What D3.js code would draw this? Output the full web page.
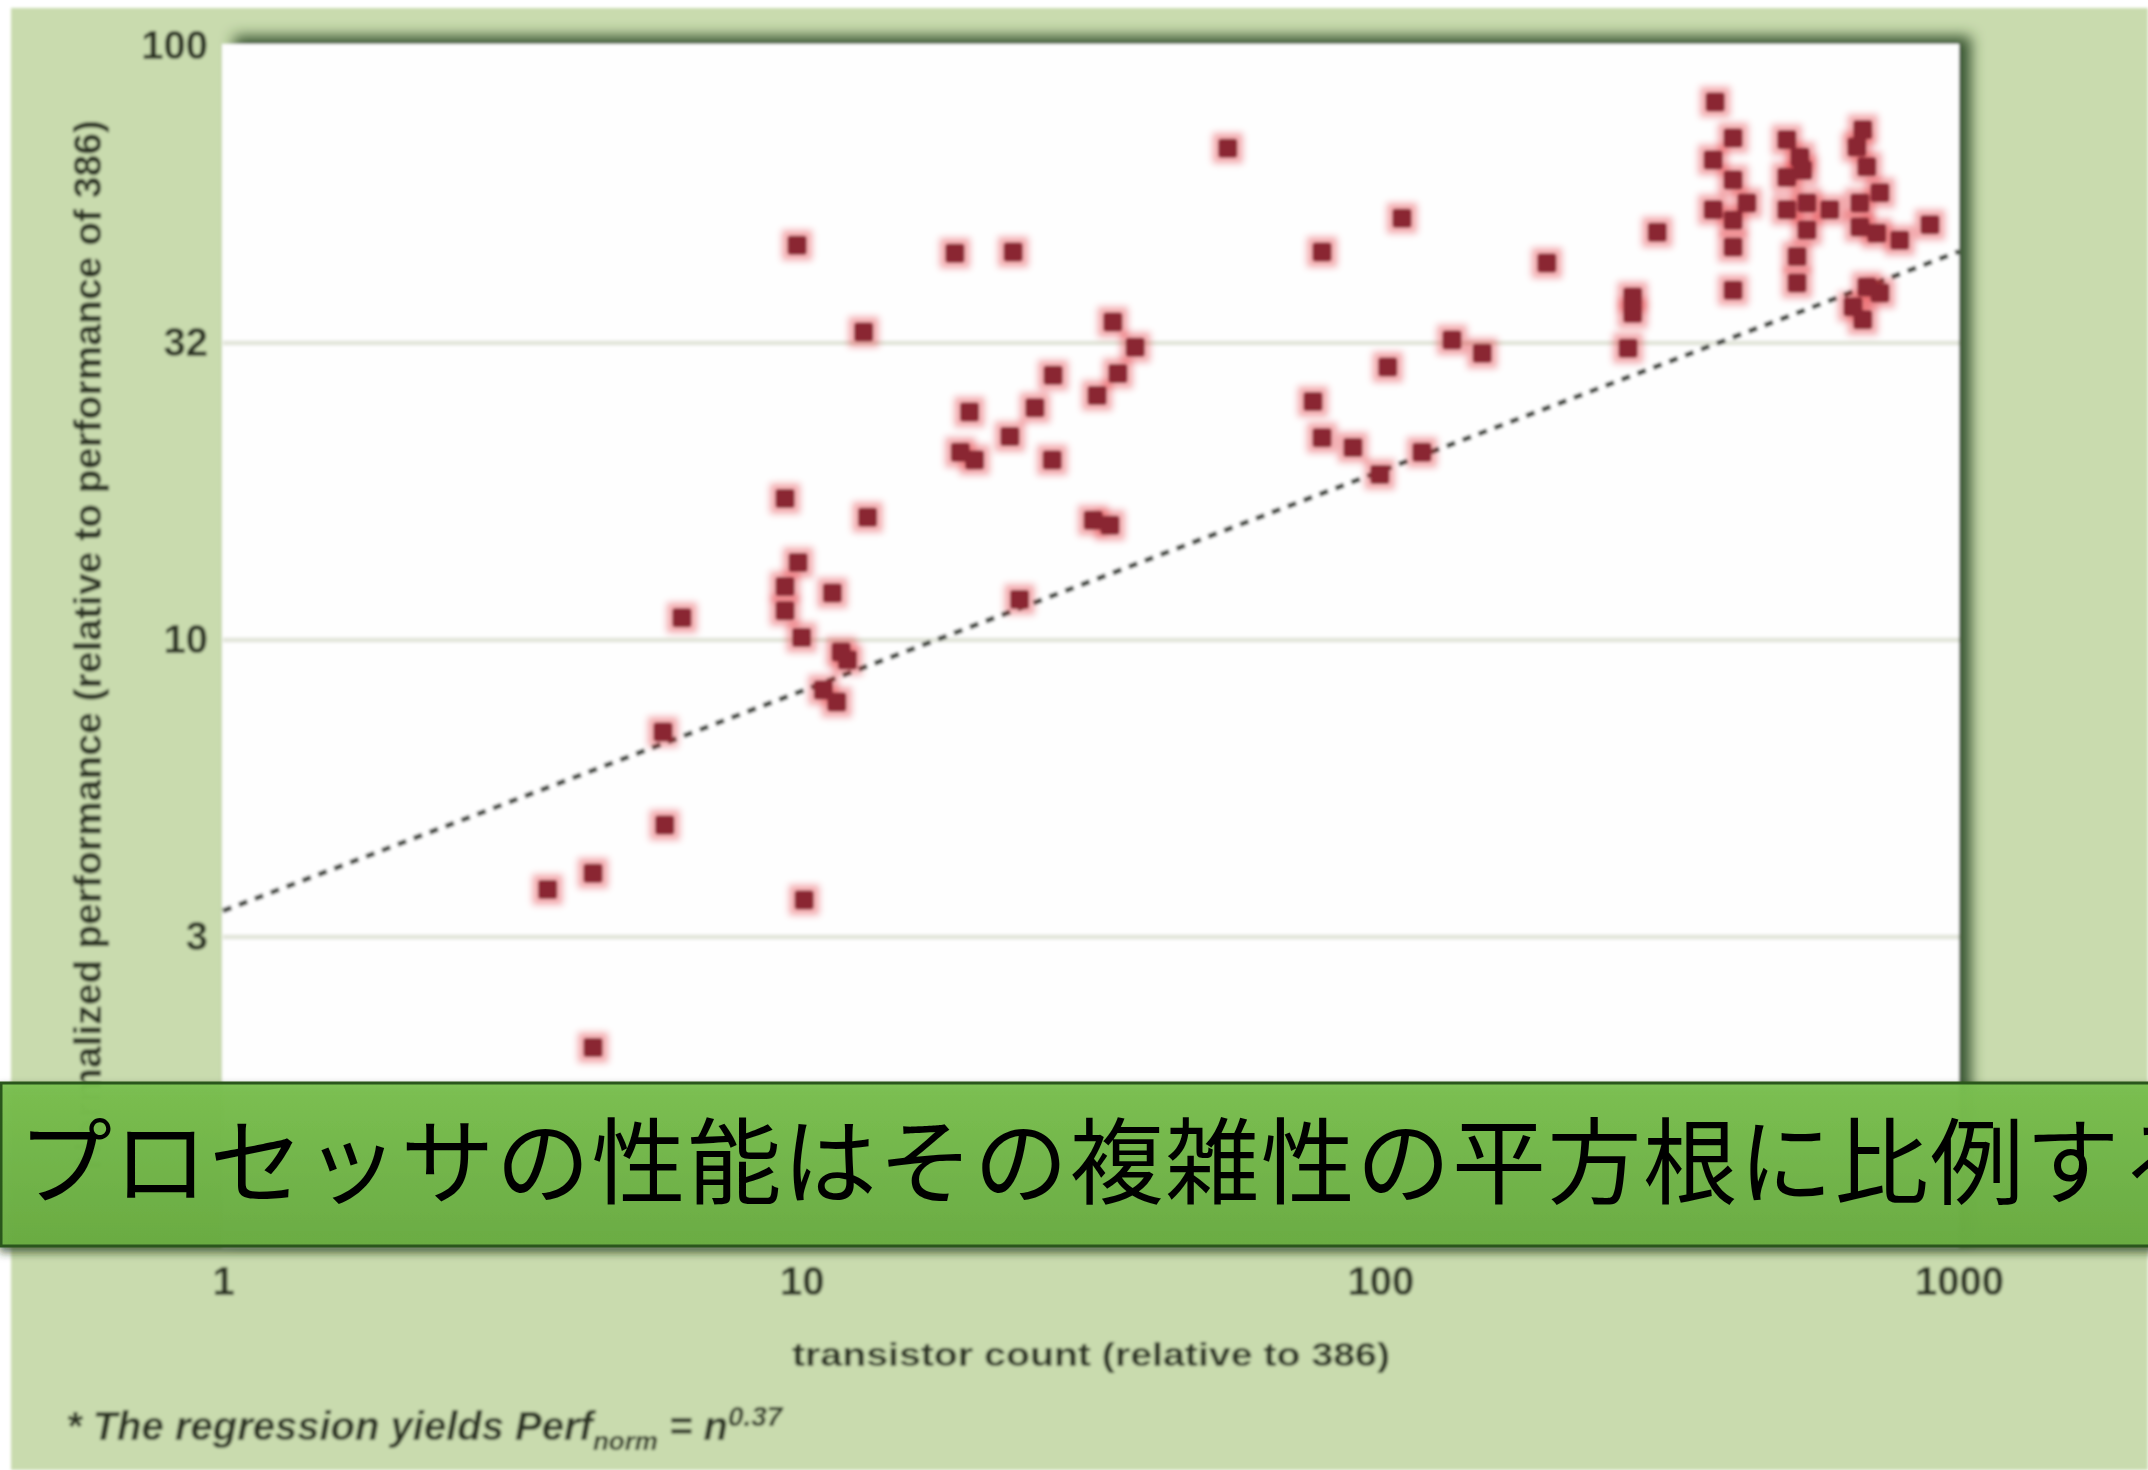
<!DOCTYPE html>
<html>
<head>
<meta charset="utf-8">
<script src="https://cdn.jsdelivr.net/npm/d3@7"></script>
<style>
  html, body { margin: 0; padding: 0; background: #ffffff; }
  svg { display: block; }
</style>
</head>
<body>
<svg id="chart" width="2148" height="1470"></svg>
<script>
// Transistor count of each processor, relative to the 386
const transistorCount = [
  3.64, 4.36, 4.36, 5.76, 5.80, 6.21, 9.36, 9.86, 9.36, 9.36, 11.3, 10.0, 11.7, 12.0, 10.9, 11.5, 10.1,
  9.82, 12.8, 13.0, 18.4, 23.2, 19.5, 18.8, 19.9, 22.9, 25.3, 27.1, 27.2, 23.8, 31.9, 34.1, 32.4, 34.5, 35.2, 37.7,
  54.5, 76.5, 79.3, 79.3, 89.7, 99.8, 103, 109, 118, 133, 150, 194, 268, 273, 273, 301,
  379, 407, 376, 407, 376, 430, 407, 407, 407,
  504, 531, 504, 537, 504, 546, 598, 546, 525, 525,
  682, 666, 693, 730, 674, 674, 721, 790, 891, 693, 656, 682, 730
];
// Normalized performance, relative to the 386
const performance = [
  3.80, 4.05, 2.06, 7.0, 4.88, 10.9, 17.3, 13.5, 12.3, 11.2, 12.0, 10.1, 9.55, 9.25, 8.24, 7.86, 3.65,
  46.2, 33.0, 16.1, 44.8, 45.0, 24.2, 20.7, 20.1, 22.0, 24.6, 20.1, 27.9, 11.7, 15.9, 15.6, 25.8, 34.3, 28.1, 31.1,
  67.3, 25.2, 45.0, 21.9, 21.1, 19.0, 28.8, 51.3, 20.7, 32.0, 30.4, 43.1, 31.0, 37.8, 35.5, 48.6,
  80.5, 70.0, 64.3, 59.5, 53.0, 54.4, 50.9, 45.9, 38.8,
  69.5, 65.0, 60.1, 61.8, 53.0, 54.4, 53.0, 49.0, 44.2, 39.9,
  72.3, 67.6, 62.6, 56.6, 54.4, 49.6, 48.4, 47.1, 50.0, 39.3, 36.4, 34.6, 38.4
];

// Axis ticks (half-decade steps on the performance axis)
const xTickValues = [1, 10, 100, 1000];
const xTickLabels = ["1", "10", "100", "1000"];
const yTickValues = [3.1623, 10, 31.623, 100];
const yTickLabels = ["3", "10", "32", "100"];
const gridValues = [1, 3.1623, 10, 31.623];

// Power-law fit: perf = coef * n ^ exponent
const regressionCoef = 3.5;
const regressionExp = 0.37;
const regressionRange = [1, 1000];

const xTitle = "transistor count (relative to 386)";
const yTitle = "Normalized performance (relative to performance of 386)";
const footnoteText = "* The regression yields ";
const bannerText = "プロセッサの性能はその複雑性の平方根に比例する";

const W = 2148, H = 1470;
const svg = d3.select("#chart");
const defs = svg.append("defs");

// soft focus for the chart body
defs.append("filter").attr("id", "soft")
  .attr("x", "-5%").attr("y", "-5%").attr("width", "110%").attr("height", "110%")
  .append("feGaussianBlur").attr("stdDeviation", 1.4);

defs.append("filter").attr("id", "haloBlur")
  .attr("x", "-50%").attr("y", "-50%").attr("width", "200%").attr("height", "200%")
  .append("feGaussianBlur").attr("stdDeviation", 3);

const plotShadow = defs.append("filter").attr("id", "plotShadow")
  .attr("x", "-10%").attr("y", "-10%").attr("width", "120%").attr("height", "120%");
plotShadow.append("feDropShadow")
  .attr("dx", 12).attr("dy", -8).attr("stdDeviation", 7)
  .attr("flood-color", "#2c4623").attr("flood-opacity", 0.9);

const bannerShadow = defs.append("filter").attr("id", "bannerShadow")
  .attr("x", "-5%").attr("y", "-30%").attr("width", "110%").attr("height", "160%");
bannerShadow.append("feDropShadow")
  .attr("dx", 0).attr("dy", 5).attr("stdDeviation", 4)
  .attr("flood-color", "#1f3317").attr("flood-opacity", 0.7);

const bannerGrad = defs.append("linearGradient").attr("id", "bannerFill")
  .attr("x1", 0).attr("y1", 0).attr("x2", 0).attr("y2", 1);
bannerGrad.append("stop").attr("offset", "0%").attr("stop-color", "#7bc150");
bannerGrad.append("stop").attr("offset", "100%").attr("stop-color", "#6aad42");

// Scales
const plotLeft = 223, plotRight = 1959, plotTop = 46, plotBottom = 1234;
const x = d3.scaleLog().domain([1, 1000]).range([plotLeft, plotRight]);
const y = d3.scaleLog().domain([1, 100]).range([plotBottom, plotTop]);

// Page background
svg.append("rect").attr("width", W).attr("height", H).attr("fill", "#ffffff");
const body = svg.append("g").attr("filter", "url(#soft)");
body.append("rect").attr("x", 11).attr("y", 8).attr("width", W - 11).attr("height", H - 8)
  .attr("fill", "#c9dbae");

// Plot panel
body.append("rect")
  .attr("x", plotLeft - 1).attr("y", plotTop - 2)
  .attr("width", plotRight - plotLeft + 1).attr("height", plotBottom - plotTop + 16)
  .attr("fill", "#fefefe")
  .attr("filter", "url(#plotShadow)");

// Horizontal gridlines
body.append("g").selectAll("line")
  .data(gridValues)
  .join("line")
  .attr("x1", plotLeft).attr("x2", plotRight)
  .attr("y1", d => y(d)).attr("y2", d => y(d))
  .attr("stroke", "#e3e6db").attr("stroke-width", 5);

// Regression line
const fit = regressionRange.map(n => [n, regressionCoef * Math.pow(n, regressionExp)]);
body.append("path")
  .attr("d", d3.line().x(d => x(d[0])).y(d => y(d[1]))(fit))
  .attr("fill", "none")
  .attr("stroke", "#3d423b")
  .attr("stroke-width", 5)
  .attr("stroke-dasharray", "9,8");

// Processors
const pts = transistorCount.map((n, i) => ({ n, p: performance[i] }));
body.append("g").attr("filter", "url(#haloBlur)").selectAll("rect")
  .data(pts).join("rect")
  .attr("x", d => x(d.n) - 15).attr("y", d => y(d.p) - 15)
  .attr("width", 30).attr("height", 30)
  .attr("fill", "#e0222e").attr("fill-opacity", 0.4);
body.append("g").selectAll("rect")
  .data(pts).join("rect")
  .attr("x", d => x(d.n) - 9.5).attr("y", d => y(d.p) - 9.5)
  .attr("width", 19).attr("height", 19).attr("rx", 3)
  .attr("fill", "#8a2533");

// Axes
const textColor = "#2a3322";
const yAxis = d3.axisLeft(y)
  .tickValues(yTickValues)
  .tickFormat((d, i) => yTickLabels[i])
  .tickSize(0).tickPadding(14);
const yg = body.append("g").attr("transform", `translate(${plotLeft - 1},0)`).call(yAxis);
yg.select(".domain").remove();
yg.selectAll("text")
  .attr("font-family", "'Liberation Sans', Arial, sans-serif")
  .attr("font-size", 40).attr("font-weight", "bold")
  .attr("fill", textColor);

const xAxis = d3.axisBottom(x)
  .tickValues(xTickValues)
  .tickFormat((d, i) => xTickLabels[i])
  .tickSize(0).tickPadding(33);
const xg = body.append("g").attr("transform", `translate(0,${plotBottom})`).call(xAxis);
xg.select(".domain").remove();
xg.selectAll("text")
  .attr("font-family", "'Liberation Sans', Arial, sans-serif")
  .attr("font-size", 40).attr("font-weight", "bold")
  .attr("fill", textColor);

// Axis titles
body.append("text")
  .attr("transform", "translate(101,645) rotate(-90)")
  .attr("text-anchor", "middle")
  .attr("font-family", "'Liberation Sans', Arial, sans-serif")
  .attr("font-size", 38).attr("font-weight", "bold")
  .attr("fill", textColor)
  .attr("textLength", 1050).attr("lengthAdjust", "spacingAndGlyphs")
  .text(yTitle);

body.append("text")
  .attr("x", 1091).attr("y", 1366)
  .attr("text-anchor", "middle")
  .attr("font-family", "'Liberation Sans', Arial, sans-serif")
  .attr("font-size", 33).attr("font-weight", "bold")
  .attr("fill", textColor)
  .attr("textLength", 598).attr("lengthAdjust", "spacingAndGlyphs")
  .text(xTitle);

// Footnote with the fitted power law
const foot = body.append("text")
  .attr("x", 66).attr("y", 1440)
  .attr("font-family", "'Liberation Sans', Arial, sans-serif")
  .attr("font-size", 40).attr("font-style", "italic").attr("font-weight", "bold")
  .attr("fill", textColor);
foot.append("tspan").text(footnoteText + "Perf");
foot.append("tspan").attr("font-size", 26).attr("dy", 10).text("norm");
foot.append("tspan").attr("dy", -10).text(" = n");
foot.append("tspan").attr("font-size", 28).attr("dy", -14).text(regressionExp.toFixed(2));

// Caption banner
const banner = svg.append("g");
banner.append("rect")
  .attr("x", 1).attr("y", 1083).attr("width", W + 20).attr("height", 163)
  .attr("fill", "url(#bannerFill)")
  .attr("fill-opacity", 0.95)
  .attr("stroke", "#2b561c").attr("stroke-width", 3)
  .attr("filter", "url(#bannerShadow)");
banner.append("text")
  .attr("x", 18).attr("y", 1197)
  .attr("font-family", "'Noto Sans CJK JP', sans-serif")
  .attr("font-size", 94).attr("font-weight", 400)
  .attr("letter-spacing", 1.6)
  .attr("fill", "#000000")
  .text(bannerText);
</script>
</body>
</html>
